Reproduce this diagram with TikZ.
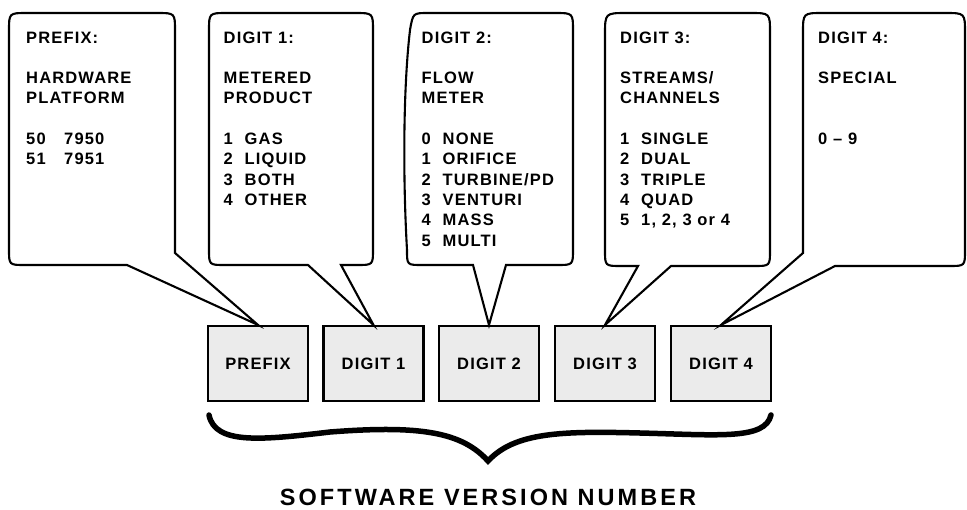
\documentclass[tikz,border=0pt]{standalone}
\usepackage{fontspec}
\setmainfont{Liberation Sans}
\newfontfamily\cfont{Liberation Sans}[LetterSpace=7]
\newfontfamily\tfont{Liberation Sans}[LetterSpace=13]
\definecolor{boxgray}{HTML}{EBEBEB}
\newcommand{\cl}[2]{\makebox[#1][l]{#2}}
\begin{document}
\begin{tikzpicture}[x=1pt,y=-1pt,
  co/.style={draw=black,line width=2.1pt,line join=miter,fill=white},
  digbox/.style={draw=black,line width=2.1pt,fill=boxgray,minimum width=100pt,minimum height=75pt,inner sep=0pt,
    font=\cfont\bfseries\fontsize{16.5}{20}\selectfont},
  ctext/.style={anchor=base west,inner sep=0pt,font=\cfont\bfseries\fontsize{16.5}{20.3}\selectfont},
  titletext/.style={anchor=base,inner sep=0pt,font=\tfont\bfseries\fontsize{23.5}{28}\selectfont},
  bracestyle/.style={draw=black,line width=5.5pt,line cap=round}]
\useasboundingbox (0,0) rectangle (967,509);
% boxes
\node[digbox] (p)  at (258,363.5) {PREFIX};
\node[digbox] (d1) at (373.5,363.5) {DIGIT 1};
\node[digbox] (d2) at (489,363.5) {DIGIT 2};
\node[digbox] (d3) at (605,363.5) {DIGIT 3};
\node[digbox] (d4) at (721,363.5) {DIGIT 4};
% callouts
\draw[co] (90,13) -- (157,13) .. controls (175,13) .. (175,31) -- (175,253) -- (p.north) -- (127,265)
  -- (25,265) .. controls (9,265) .. (9,249) -- (9,31) .. controls (9,13) .. (27,13) -- cycle;
\draw[co] (290,13) -- (355,13) .. controls (373,13) .. (373,31) -- (373,249) .. controls (373,265) .. (357,265)
  -- (341,265) -- (d1.north) -- (308,265) -- (225,265) .. controls (209,265) .. (209,249) -- (209,31)
  .. controls (209,13) .. (227,13) -- cycle;
\draw[co] (490,13) -- (555,13) .. controls (573,13) .. (573,31) -- (573,249) .. controls (573,265) .. (557,265)
  -- (506,265) -- (d2.north) -- (473,265) -- (422,265) .. controls (407,265) .. (407,250)
  .. controls (403,180) and (403,90) .. (410,30) .. controls (413,13) .. (428,13) -- cycle;
\draw[co] (690,13) -- (750,13) .. controls (770,13) .. (770,33) -- (770,250) .. controls (770,266) .. (754,266)
  -- (671,266) -- (d3.north) -- (638,266) -- (621,266) .. controls (605,266) .. (605,250) -- (605,35)
  .. controls (605,13) .. (627,13) -- cycle;
\draw[co] (880,13) -- (945,13) .. controls (965,13) .. (965,33) -- (965,250) .. controls (965,266) .. (949,266)
  -- (835,266) -- (d4.north) -- (803,253) -- (803,33) .. controls (803,13) .. (823,13) -- cycle;
% callout texts
\node[ctext] (t0) at (26,43) {\parbox[t]{150pt}{\raggedright
 PREFIX:\\ \mbox{}\\ HARDWARE\\ PLATFORM\\ \mbox{}\\ \cl{38pt}{50}7950\\ \cl{38pt}{51}7951}};
\node[ctext] (t1) at (223.5,43) {\parbox[t]{150pt}{\raggedright
 DIGIT 1:\\ \mbox{}\\ METERED\\ PRODUCT\\ \mbox{}\\ \cl{21pt}{1}GAS\\ \cl{21pt}{2}LIQUID\\ \cl{21pt}{3}BOTH\\ \cl{21pt}{4}OTHER}};
\node[ctext] (t2) at (421.5,43) {\parbox[t]{150pt}{\raggedright
 DIGIT 2:\\ \mbox{}\\ FLOW\\ METER\\ \mbox{}\\ \cl{21pt}{0}NONE\\ \cl{21pt}{1}ORIFICE\\ \cl{21pt}{2}TURBINE/PD\\ \cl{21pt}{3}VENTURI\\ \cl{21pt}{4}MASS\\ \cl{21pt}{5}MULTI}};
\node[ctext] (t3) at (620,43) {\parbox[t]{150pt}{\raggedright
 DIGIT 3:\\ \mbox{}\\ STREAMS/\\ CHANNELS\\ \mbox{}\\ \cl{21pt}{1}SINGLE\\ \cl{21pt}{2}DUAL\\ \cl{21pt}{3}TRIPLE\\ \cl{21pt}{4}QUAD\\ \cl{21pt}{5}1, 2, 3 or 4}};
\node[ctext] (t4) at (818,43) {\parbox[t]{140pt}{\raggedright
 DIGIT 4:\\ \mbox{}\\ SPECIAL\\ \mbox{}\\ \mbox{}\\ 0 – 9}};
% brace
\coordinate (bl) at (209,415);
\coordinate (bm) at (488,461);
\coordinate (br) at (771,415);
\draw[bracestyle] (bl) .. controls (215,445) and (262,440) .. (330,432)
  .. controls (420,425) and (462,432) .. (bm)
  .. controls (515,432) and (562,431) .. (640,433)
  .. controls (720,435) and (765,440) .. (br);
% title
\node[titletext] (sv) at (488,505) {SOFTWARE VERSION NUMBER};
\end{tikzpicture}
\end{document}
